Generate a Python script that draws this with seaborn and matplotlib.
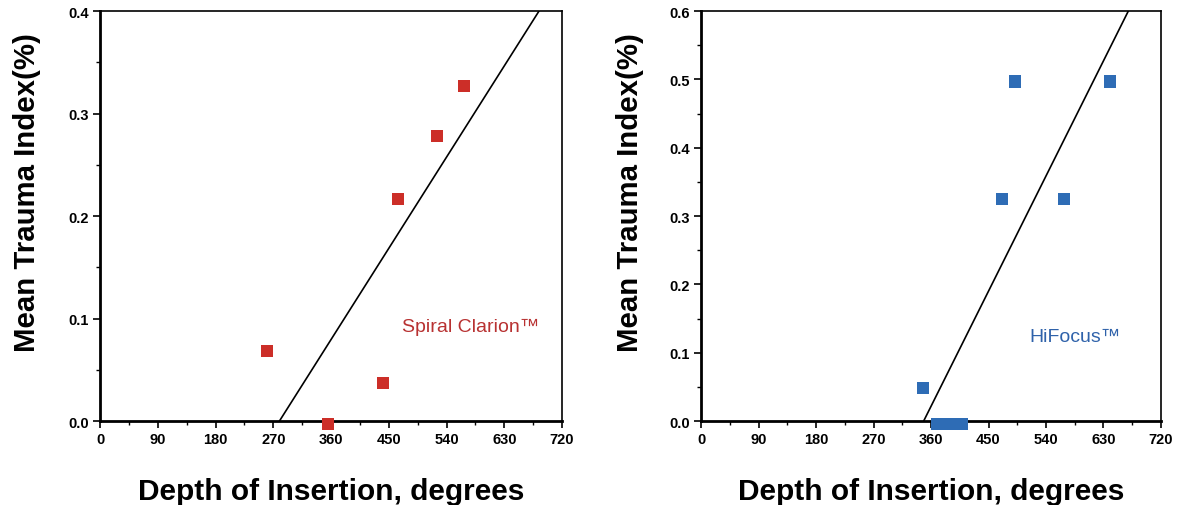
import matplotlib
matplotlib.use("Agg")
import matplotlib.pyplot as plt
import seaborn as sns
import numpy as np
import pandas as pd
from matplotlib.ticker import MultipleLocator, FormatStrFormatter

# Data
spiral_depth = [260, 355, 441, 464, 525, 567]
spiral_trauma = [0.068, -0.003, 0.037, 0.217, 0.278, 0.327]
hifocus_depth = [347, 370, 390, 408, 471, 491, 568, 640]
hifocus_trauma = [0.048, -0.004, -0.004, -0.004, 0.325, 0.497, 0.325, 0.497]
x_ticks = [0, 90, 180, 270, 360, 450, 540, 630, 720]
panel_labels = ["Spiral Clarion\u2122", "HiFocus\u2122"]

sns.set_style("white")
plt.rcParams['font.family'] = ['Liberation Sans', 'DejaVu Sans']
plt.rcParams['text.color'] = 'black'
plt.rcParams['axes.labelcolor'] = 'black'
plt.rcParams['xtick.color'] = 'black'
plt.rcParams['ytick.color'] = 'black'

fig = plt.figure(figsize=(11.77, 5.06), dpi=100)
ax1 = fig.add_axes([0.085, 0.166, 0.3925, 0.810])
ax2 = fig.add_axes([0.5956, 0.166, 0.3908, 0.810])

panels = [
    (ax1, spiral_depth, spiral_trauma, "#CC2E28", "#B83232", 0.4, panel_labels[0], (577, 0.092), 19.5),
    (ax2, hifocus_depth, hifocus_trauma, "#2E6CB5", "#2F62AA", 0.6, panel_labels[1], (585, 0.123), 18),
]

for ax, xs, ys, mcol, tcol, ymax, label, pos, lpad in panels:
    ax.set_xlim(0, 720)
    ax.set_ylim(0, ymax)
    df = pd.DataFrame({"depth": xs, "trauma": ys})
    sns.regplot(data=df, x="depth", y="trauma", ax=ax, ci=None, truncate=False,
                marker="s",
                scatter_kws=dict(s=78, color=mcol, edgecolors="none", alpha=1, clip_on=False, zorder=3),
                line_kws=dict(color="black", lw=1.2, zorder=2))
    ax.set_xlim(0, 720)
    ax.set_ylim(0, ymax)
    ax.set_xticks(x_ticks)
    ax.xaxis.set_minor_locator(MultipleLocator(45))
    ax.yaxis.set_major_locator(MultipleLocator(0.1))
    ax.yaxis.set_minor_locator(MultipleLocator(0.05))
    ax.yaxis.set_major_formatter(FormatStrFormatter('%.1f'))
    ax.tick_params(which='major', direction='out', length=5, width=1.2, color='black',
                   labelsize=10.5, pad=3, bottom=True, left=True)
    ax.tick_params(which='minor', direction='out', length=3, width=1, color='black',
                   bottom=True, left=True)
    for t in ax.get_xticklabels() + ax.get_yticklabels():
        t.set_fontweight('bold')
    for side in ['left', 'bottom']:
        ax.spines[side].set_linewidth(2)
        ax.spines[side].set_color('black')
    for side in ['top', 'right']:
        ax.spines[side].set_linewidth(1.2)
        ax.spines[side].set_color('black')
    ax.set_xlabel("Depth of Insertion, degrees", fontsize=21.5, fontweight='bold', labelpad=22)
    ax.set_ylabel("Mean Trauma Index(%)", fontsize=21.2, fontweight='bold', labelpad=lpad)
    ax.yaxis.label.set_y(0.561)
    ax.text(pos[0], pos[1], label, color=tcol, fontsize=14, ha='center', va='center')

fig.savefig("out.png", dpi=100)
